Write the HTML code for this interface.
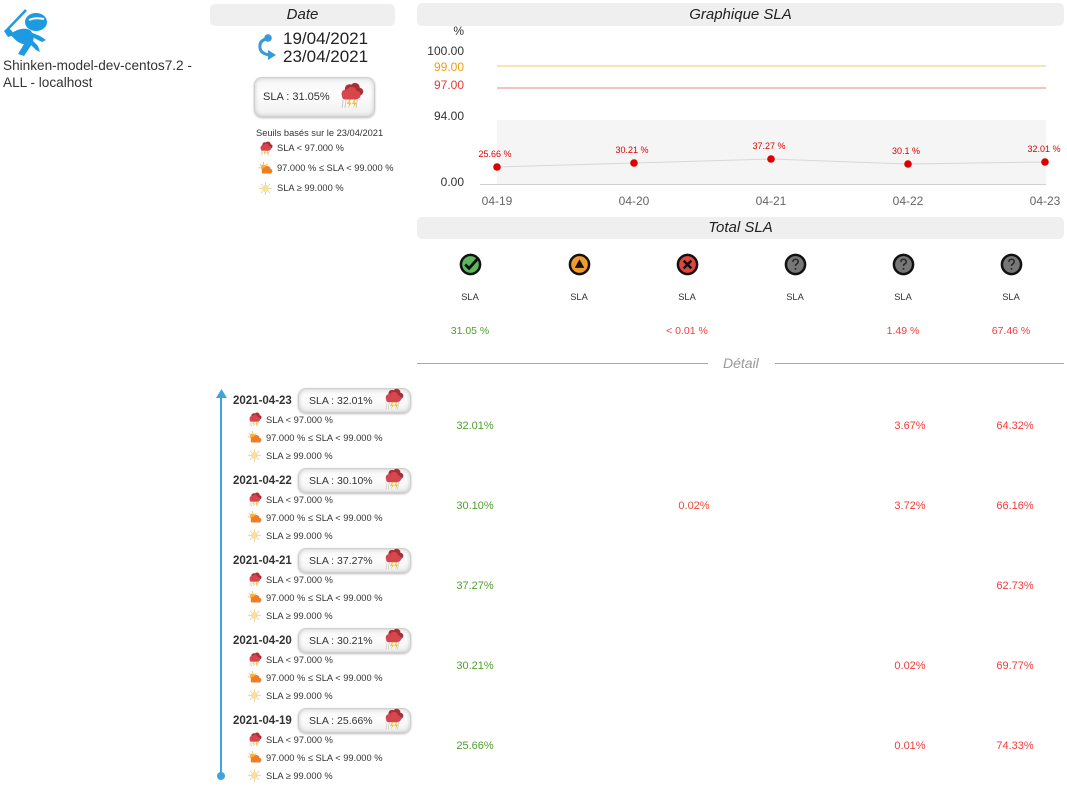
<!DOCTYPE html>
<html><head><meta charset="utf-8">
<style>
html,body{margin:0;padding:0;background:#fff;}
body{width:1067px;height:793px;position:relative;overflow:hidden;font-family:"Liberation Sans",sans-serif;color:#333;}
.a{position:absolute;white-space:nowrap;line-height:14px;}
.hdr{position:absolute;background:#efefef;border-radius:5px;font-style:italic;font-size:15px;color:#222;text-align:center;}
.box{position:absolute;background:linear-gradient(#f4f4f4,#fdfdfd 40%,#f0f0f0);border:1px solid #cfcfcf;border-radius:8px;box-shadow:inset 0 0 4px #c8c8c8,0 1px 2px #bbb;}
.sm{font-size:9.3px;color:#333;}
.g{color:#4f9e2c;}
.r{color:#f23b3b;}
.c{text-align:center;}
svg.i{position:absolute;}
</style></head><body>
<svg width="0" height="0" style="position:absolute">
<defs>
<symbol id="storm" viewBox="0 0 24 24">
<g fill="#a92f36"><circle cx="11" cy="6" r="4"/><circle cx="16" cy="5" r="4.2"/><circle cx="20" cy="8.5" r="3.3"/><rect x="9" y="7" width="13" height="5" rx="2"/></g>
<g fill="#d8454c"><circle cx="8" cy="10.5" r="4"/><circle cx="13" cy="8.8" r="4.6"/><circle cx="17.5" cy="11.5" r="3.5"/><rect x="4.5" y="10.5" width="15" height="5" rx="2.5"/></g>
<g stroke="#c6c6c6" stroke-width="0.8"><line x1="5.5" y1="16" x2="4.5" y2="23"/><line x1="8" y1="16" x2="7" y2="23"/><line x1="18" y1="16" x2="17" y2="23"/></g>
<path d="M11 15.5 l-2.2 4 h2 l-1 3.8 l3.2-5 h-2 l1.2-2.8z" fill="#f2c12e"/>
<path d="M15.5 15.5 l-2.2 4 h2 l-1 3.8 l3.2-5 h-2 l1.2-2.8z" fill="#f2c12e"/>
</symbol>
<symbol id="cloudy" viewBox="0 0 24 24">
<g stroke="#f4a23a" stroke-width="1.3"><line x1="9" y1="2" x2="9" y2="5"/><line x1="3" y1="5" x2="5" y2="7"/><line x1="15" y1="5" x2="13" y2="7"/><line x1="1" y1="11" x2="4" y2="11"/></g>
<circle cx="9" cy="10" r="4.5" fill="#f6b04a"/>
<g fill="#ee7e22"><circle cx="10" cy="15" r="4"/><circle cx="15" cy="13" r="5"/><circle cx="19.5" cy="16" r="3.5"/><rect x="6" y="15" width="16" height="5" rx="2.5"/></g>
</symbol>
<symbol id="sun" viewBox="0 0 24 24">
<g stroke="#f3c96a" stroke-width="1.4"><line x1="12" y1="2" x2="12" y2="6"/><line x1="12" y1="18" x2="12" y2="22"/><line x1="2" y1="12" x2="6" y2="12"/><line x1="18" y1="12" x2="22" y2="12"/><line x1="5" y1="5" x2="7.5" y2="7.5"/><line x1="19" y1="19" x2="16.5" y2="16.5"/><line x1="19" y1="5" x2="16.5" y2="7.5"/><line x1="5" y1="19" x2="7.5" y2="16.5"/></g>
<circle cx="12" cy="12" r="5" fill="#fbe09a" stroke="#f5cf6e" stroke-width="0.8"/>
</symbol>
<symbol id="ok" viewBox="0 0 24 24"><circle cx="12" cy="12" r="10" fill="#5cb85c" stroke="#111" stroke-width="2.6"/><path d="M6.5 12 l4 4 l9-10" stroke="#111" stroke-width="3" fill="none"/></symbol>
<symbol id="warn" viewBox="0 0 24 24"><circle cx="12" cy="12" r="10" fill="#f29a2e" stroke="#111" stroke-width="2.6"/><path d="M12 6.5 l5 9 h-10z" fill="#111"/></symbol>
<symbol id="crit" viewBox="0 0 24 24"><circle cx="12" cy="12" r="10" fill="#e2453c" stroke="#111" stroke-width="2.6"/><path d="M8 8 l8 8 M16 8 l-8 8" stroke="#111" stroke-width="2.6"/></symbol>
<symbol id="unk" viewBox="0 0 24 24"><circle cx="12" cy="12" r="10" fill="#777" stroke="#111" stroke-width="2.6"/><path d="M9.3 9.5 q0-3 2.7-3 q2.8 0 2.8 2.6 q0 1.5-1.7 2.4 q-1.1 0.6-1.1 2" stroke="#2a2a2a" stroke-width="1.6" fill="none"/><circle cx="12" cy="16.5" r="1" fill="#2a2a2a"/></symbol>
</defs>
</svg>

<!-- logo -->
<svg class="i" style="left:2px;top:4px" width="50" height="52" viewBox="0 0 50 52">
<path d="M3 28 L24 6" stroke="#1c9be2" stroke-width="2.5"/>
<path d="M2 27 q6-6 10 4 l-6 2z" fill="#1c9be2"/>
<ellipse cx="34" cy="18" rx="11" ry="9" fill="#1c9be2"/>
<path d="M27 16 q6-3 15-1" stroke="#fff" stroke-width="2" fill="none"/>
<path d="M8 30 q12-8 20-4 q6 6 2 14 l-8 12 l-6-2 l6-10 q-6 0-14-10z" fill="#1c9be2"/>
<path d="M28 28 l10 4 l6 4 l-4 2 l-8-4z" fill="#1c9be2"/>
<path d="M30 36 l6 6 l2 6 l-4-2 l-6-6z" fill="#1c9be2"/>
</svg>
<div class="a" style="left:3px;top:57px;font-size:13.6px;line-height:17px;color:#333">Shinken-model-dev-centos7.2 -<br>ALL - localhost</div>

<!-- Date -->
<div class="hdr" style="left:210px;top:4px;width:185px;height:22px;line-height:22px">Date</div>
<svg class="i" style="left:252px;top:30px" width="28" height="34" viewBox="0 0 28 34">
<circle cx="16" cy="8" r="3.8" fill="#3a9ad9"/>
<path d="M14 9 q-7 2-6 9 q1 6 10 7" stroke="#3a9ad9" stroke-width="3" fill="none"/>
<path d="M16 20 l8 5 l-8 5z" fill="#3a9ad9"/>
</svg>
<div class="a" style="left:283px;top:30px;font-size:17px;line-height:18px;color:#222">19/04/2021<br>23/04/2021</div>

<div class="box" style="left:254px;top:77px;width:119px;height:38px"></div>
<div class="a" style="left:263px;top:90px;font-size:11px">SLA : 31.05%</div>
<svg class="i" style="left:337px;top:82px" width="27" height="27"><use href="#storm"/></svg>

<div class="a sm" style="left:256px;top:126px">Seuils basés sur le 23/04/2021</div>
<svg class="i" style="left:258px;top:141px" width="15" height="15"><use href="#storm"/></svg>
<div class="a sm" style="left:277px;top:141px">SLA &lt; 97.000 %</div>
<svg class="i" style="left:258px;top:161px" width="15" height="15"><use href="#cloudy"/></svg>
<div class="a sm" style="left:277px;top:161px">97.000 % ≤ SLA &lt; 99.000 %</div>
<svg class="i" style="left:258px;top:181px" width="15" height="15"><use href="#sun"/></svg>
<div class="a sm" style="left:277px;top:181px">SLA ≥ 99.000 %</div>

<!-- Graphique -->
<div class="hdr" style="left:417px;top:3px;width:647px;height:23px;line-height:23px">Graphique SLA</div>
<svg class="i" style="left:0;top:0" width="1067" height="215" viewBox="0 0 1067 215" font-family="Liberation Sans, sans-serif">
<rect x="497" y="120" width="549" height="64" fill="#f5f5f5"/>
<line x1="497" y1="66" x2="1046" y2="66" stroke="#fde2b8" stroke-width="2"/>
<line x1="497" y1="88" x2="1046" y2="88" stroke="#f6c2c2" stroke-width="2"/>
<line x1="480" y1="184.5" x2="1046" y2="184.5" stroke="#d0d0d0" stroke-width="1"/>
<g font-size="12" fill="#333" text-anchor="end">
<text x="464" y="35">%</text>
<text x="464" y="55">100.00</text>
<text x="464" y="71" fill="#f39c12">99.00</text>
<text x="464" y="89" fill="#e53935">97.00</text>
<text x="464" y="120">94.00</text>
<text x="464" y="186">0.00</text>
</g>
<polyline points="497,167 634,163 771,159 908,164 1045,162" fill="none" stroke="#d8d8d8" stroke-width="1"/>
<g fill="#dd0000"><circle cx="497" cy="167" r="3.8"/><circle cx="634" cy="163" r="3.8"/><circle cx="771" cy="159" r="3.8"/><circle cx="908" cy="164" r="3.8"/><circle cx="1045" cy="162" r="3.8"/></g>
<g font-size="9" fill="#e00000" text-anchor="middle">
<text x="495" y="157">25.66 %</text>
<text x="632" y="153">30.21 %</text>
<text x="769" y="149">37.27 %</text>
<text x="906" y="154">30.1 %</text>
<text x="1044" y="152">32.01 %</text>
</g>
<g font-size="12" fill="#666" text-anchor="middle">
<text x="497" y="205">04-19</text>
<text x="634" y="205">04-20</text>
<text x="771" y="205">04-21</text>
<text x="908" y="205">04-22</text>
<text x="1045" y="205">04-23</text>
</g>
</svg>

<!-- Total SLA -->
<div class="hdr" style="left:417px;top:217px;width:647px;height:22px;line-height:22px">Total SLA</div>
<svg class="i" style="left:459px;top:253px" width="23" height="23"><use href="#ok"/></svg>
<svg class="i" style="left:568px;top:253px" width="23" height="23"><use href="#warn"/></svg>
<svg class="i" style="left:676px;top:253px" width="23" height="23"><use href="#crit"/></svg>
<svg class="i" style="left:784px;top:253px" width="23" height="23"><use href="#unk"/></svg>
<svg class="i" style="left:892px;top:253px" width="23" height="23"><use href="#unk"/></svg>
<svg class="i" style="left:1000px;top:253px" width="23" height="23"><use href="#unk"/></svg>
<div class="a sm c" style="left:440px;top:290px;width:60px">SLA</div>
<div class="a sm c" style="left:549px;top:290px;width:60px">SLA</div>
<div class="a sm c" style="left:657px;top:290px;width:60px">SLA</div>
<div class="a sm c" style="left:765px;top:290px;width:60px">SLA</div>
<div class="a sm c" style="left:873px;top:290px;width:60px">SLA</div>
<div class="a sm c" style="left:981px;top:290px;width:60px">SLA</div>
<div class="a c g" style="left:420px;top:324px;width:100px;font-size:10.5px">31.05 %</div>
<div class="a c r" style="left:637px;top:324px;width:100px;font-size:10.5px">&lt; 0.01 %</div>
<div class="a c r" style="left:853px;top:324px;width:100px;font-size:10.5px">1.49 %</div>
<div class="a c r" style="left:961px;top:324px;width:100px;font-size:10.5px">67.46 %</div>

<!-- Détail -->
<div style="position:absolute;left:417px;top:363px;width:291px;height:1px;background:#a8a8a8"></div>
<div class="a" style="left:723px;top:356px;font-size:14px;font-style:italic;color:#999">Détail</div>
<div style="position:absolute;left:775px;top:363px;width:289px;height:1px;background:#a8a8a8"></div>

<!-- timeline -->
<div style="position:absolute;left:220px;top:396px;width:2px;height:380px;background:#3fa3e0"></div>
<svg class="i" style="left:215px;top:389px" width="13" height="10"><path d="M6.5 0 L12 9 H1z" fill="#3fa3e0"/></svg>
<div style="position:absolute;left:217px;top:772px;width:8px;height:8px;border-radius:50%;background:#3fa3e0"></div>

<!-- rows -->
<div class="a" style="left:233px;top:394px;font-size:11.5px;font-weight:bold;color:#333">2021-04-23</div>
<div class="box" style="left:298px;top:388px;width:111px;height:23px"></div>
<div class="a" style="left:309px;top:394px;font-size:10.5px">SLA : 32.01%</div>
<svg class="i" style="left:382px;top:388px" width="22" height="22"><use href="#storm"/></svg>
<svg class="i" style="left:247px;top:412px" width="15" height="15"><use href="#storm"/></svg>
<div class="a sm" style="left:266px;top:413px">SLA &lt; 97.000 %</div>
<svg class="i" style="left:247px;top:430px" width="15" height="15"><use href="#cloudy"/></svg>
<div class="a sm" style="left:266px;top:431px">97.000 % ≤ SLA &lt; 99.000 %</div>
<svg class="i" style="left:247px;top:448px" width="15" height="15"><use href="#sun"/></svg>
<div class="a sm" style="left:266px;top:449px">SLA ≥ 99.000 %</div>
<div class="a c g" style="left:425px;top:419px;width:100px;font-size:11px">32.01%</div>
<div class="a c r" style="left:860px;top:419px;width:100px;font-size:11px">3.67%</div>
<div class="a c r" style="left:965px;top:419px;width:100px;font-size:11px">64.32%</div>

<div class="a" style="left:233px;top:474px;font-size:11.5px;font-weight:bold;color:#333">2021-04-22</div>
<div class="box" style="left:298px;top:468px;width:111px;height:23px"></div>
<div class="a" style="left:309px;top:474px;font-size:10.5px">SLA : 30.10%</div>
<svg class="i" style="left:382px;top:468px" width="22" height="22"><use href="#storm"/></svg>
<svg class="i" style="left:247px;top:492px" width="15" height="15"><use href="#storm"/></svg>
<div class="a sm" style="left:266px;top:493px">SLA &lt; 97.000 %</div>
<svg class="i" style="left:247px;top:510px" width="15" height="15"><use href="#cloudy"/></svg>
<div class="a sm" style="left:266px;top:511px">97.000 % ≤ SLA &lt; 99.000 %</div>
<svg class="i" style="left:247px;top:528px" width="15" height="15"><use href="#sun"/></svg>
<div class="a sm" style="left:266px;top:529px">SLA ≥ 99.000 %</div>
<div class="a c g" style="left:425px;top:499px;width:100px;font-size:11px">30.10%</div>
<div class="a c" style="left:644px;top:499px;width:100px;font-size:11px;color:#f04a35">0.02%</div>
<div class="a c r" style="left:860px;top:499px;width:100px;font-size:11px">3.72%</div>
<div class="a c r" style="left:965px;top:499px;width:100px;font-size:11px">66.16%</div>

<div class="a" style="left:233px;top:554px;font-size:11.5px;font-weight:bold;color:#333">2021-04-21</div>
<div class="box" style="left:298px;top:548px;width:111px;height:23px"></div>
<div class="a" style="left:309px;top:554px;font-size:10.5px">SLA : 37.27%</div>
<svg class="i" style="left:382px;top:548px" width="22" height="22"><use href="#storm"/></svg>
<svg class="i" style="left:247px;top:572px" width="15" height="15"><use href="#storm"/></svg>
<div class="a sm" style="left:266px;top:573px">SLA &lt; 97.000 %</div>
<svg class="i" style="left:247px;top:590px" width="15" height="15"><use href="#cloudy"/></svg>
<div class="a sm" style="left:266px;top:591px">97.000 % ≤ SLA &lt; 99.000 %</div>
<svg class="i" style="left:247px;top:608px" width="15" height="15"><use href="#sun"/></svg>
<div class="a sm" style="left:266px;top:609px">SLA ≥ 99.000 %</div>
<div class="a c g" style="left:425px;top:579px;width:100px;font-size:11px">37.27%</div>
<div class="a c r" style="left:965px;top:579px;width:100px;font-size:11px">62.73%</div>

<div class="a" style="left:233px;top:634px;font-size:11.5px;font-weight:bold;color:#333">2021-04-20</div>
<div class="box" style="left:298px;top:628px;width:111px;height:23px"></div>
<div class="a" style="left:309px;top:634px;font-size:10.5px">SLA : 30.21%</div>
<svg class="i" style="left:382px;top:628px" width="22" height="22"><use href="#storm"/></svg>
<svg class="i" style="left:247px;top:652px" width="15" height="15"><use href="#storm"/></svg>
<div class="a sm" style="left:266px;top:653px">SLA &lt; 97.000 %</div>
<svg class="i" style="left:247px;top:670px" width="15" height="15"><use href="#cloudy"/></svg>
<div class="a sm" style="left:266px;top:671px">97.000 % ≤ SLA &lt; 99.000 %</div>
<svg class="i" style="left:247px;top:688px" width="15" height="15"><use href="#sun"/></svg>
<div class="a sm" style="left:266px;top:689px">SLA ≥ 99.000 %</div>
<div class="a c g" style="left:425px;top:659px;width:100px;font-size:11px">30.21%</div>
<div class="a c r" style="left:860px;top:659px;width:100px;font-size:11px">0.02%</div>
<div class="a c r" style="left:965px;top:659px;width:100px;font-size:11px">69.77%</div>

<div class="a" style="left:233px;top:714px;font-size:11.5px;font-weight:bold;color:#333">2021-04-19</div>
<div class="box" style="left:298px;top:708px;width:111px;height:23px"></div>
<div class="a" style="left:309px;top:714px;font-size:10.5px">SLA : 25.66%</div>
<svg class="i" style="left:382px;top:708px" width="22" height="22"><use href="#storm"/></svg>
<svg class="i" style="left:247px;top:732px" width="15" height="15"><use href="#storm"/></svg>
<div class="a sm" style="left:266px;top:733px">SLA &lt; 97.000 %</div>
<svg class="i" style="left:247px;top:750px" width="15" height="15"><use href="#cloudy"/></svg>
<div class="a sm" style="left:266px;top:751px">97.000 % ≤ SLA &lt; 99.000 %</div>
<svg class="i" style="left:247px;top:768px" width="15" height="15"><use href="#sun"/></svg>
<div class="a sm" style="left:266px;top:769px">SLA ≥ 99.000 %</div>
<div class="a c g" style="left:425px;top:739px;width:100px;font-size:11px">25.66%</div>
<div class="a c r" style="left:860px;top:739px;width:100px;font-size:11px">0.01%</div>
<div class="a c r" style="left:965px;top:739px;width:100px;font-size:11px">74.33%</div>

</body></html>
